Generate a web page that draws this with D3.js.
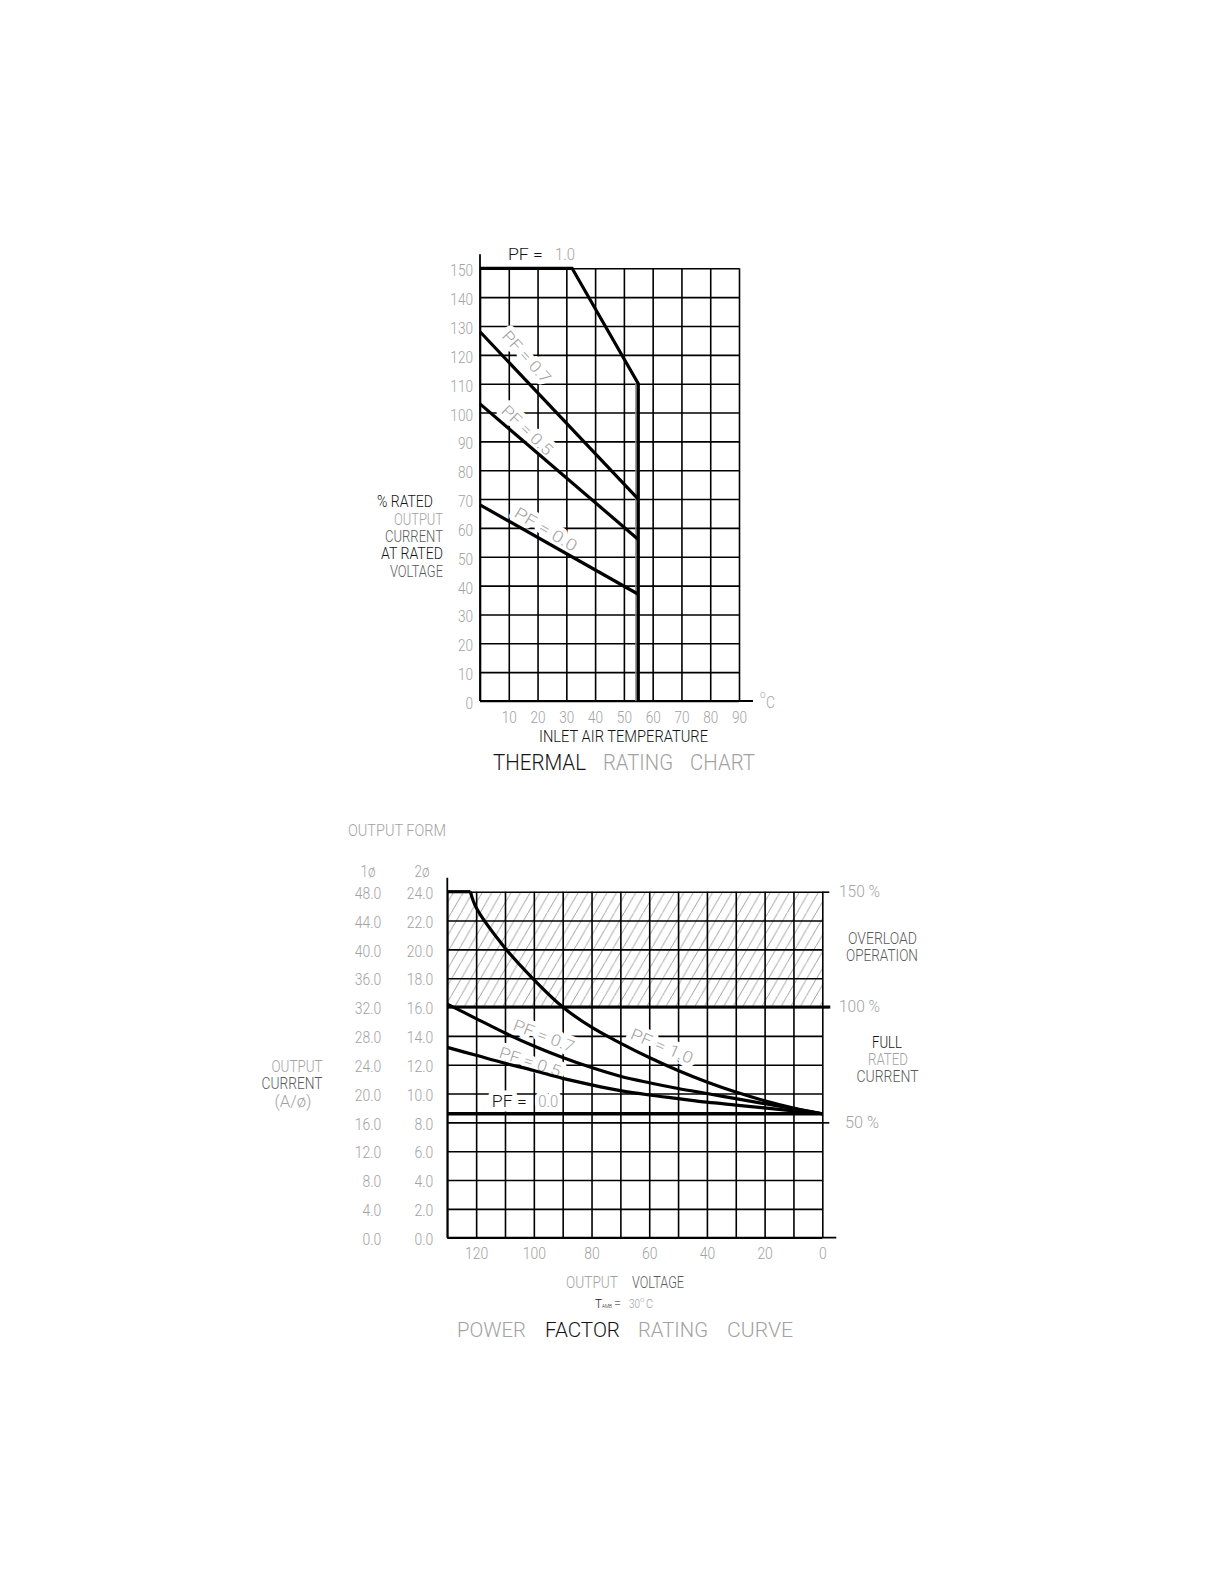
<!DOCTYPE html>
<html>
<head>
<meta charset="utf-8">
<script src="https://cdn.jsdelivr.net/npm/d3@7"></script>
<style>
body { margin: 0; background: #fff; }
svg { display: block; }
text { font-family: Roboto, "DejaVu Sans Condensed", sans-serif; font-weight: 300; }
</style>
</head>
<body>
<svg id="svg1" width="1224" height="1584"></svg>
<script>
// ---- thermal rating chart ----
var tempGrid = [0, 10, 20, 30, 40, 50, 60, 70, 80, 90];
var tempTicks = [10, 20, 30, 40, 50, 60, 70, 80, 90];
var pctTicks = [0, 10, 20, 30, 40, 50, 60, 70, 80, 90, 100, 110, 120, 130, 140, 150];

// [temp degC, % rated current]
var thermalPf10 = [[0, 150], [32, 150], [55, 110], [55, 0]];
var thermalPf07 = [[0, 128], [55, 70]];
var thermalPf05 = [[0, 103], [55, 56]];
var thermalPf00 = [[0, 68], [55, 37]];

// ---- power factor rating curve ----
var voltGrid = [130, 120, 110, 100, 90, 80, 70, 60, 50, 40, 30, 20, 10, 0];
var voltTicks = [120, 100, 80, 60, 40, 20, 0];
var ampGrid = [0, 2, 4, 6, 8, 10, 12, 14, 16, 18, 20, 22, 24];
var amp1Labels = ["0.0", "4.0", "8.0", "12.0", "16.0", "20.0", "24.0", "28.0", "32.0", "36.0", "40.0", "44.0", "48.0"];
var amp2Labels = ["0.0", "2.0", "4.0", "6.0", "8.0", "10.0", "12.0", "14.0", "16.0", "18.0", "20.0", "22.0", "24.0"];

// output current (2ø scale) read at each voltage
var pf10Flat = [[130, 24], [122, 24]];
var pf10Volts = [122, 120, 110, 100, 90, 80, 70, 60, 50, 40, 30, 20, 10, 0];
var pf10Amps = [24, 22.9, 20.1, 17.9, 16.0, 14.6, 13.5, 12.5, 11.6, 10.8, 10.1, 9.5, 9.0, 8.6];
var curveVolts = [130, 120, 110, 100, 90, 80, 70, 60, 50, 40, 30, 20, 10, 0];
var pf07Amps = [16.2, 15.2, 14.2, 13.3, 12.5, 11.8, 11.2, 10.75, 10.35, 10.0, 9.65, 9.3, 8.95, 8.6];
var pf05Amps = [13.2, 12.65, 12.1, 11.6, 11.05, 10.6, 10.2, 9.9, 9.65, 9.4, 9.2, 9.0, 8.8, 8.6];
var pf00Volts = [130, 0];
var pf00Amps = [8.6, 8.6];

var K = '#141414', G = '#a2a2a2', M = '#5a5a5a';
var FONT = 'Roboto, "DejaVu Sans Condensed", sans-serif';

var svg = d3.select('#svg1');

var defs = svg.append('defs');
var hatch = defs.append('pattern')
    .attr('id', 'hatch')
    .attr('patternUnits', 'userSpaceOnUse')
    .attr('width', 9.6)
    .attr('height', 16.6);
hatch.append('line')
    .attr('x1', -0.5).attr('y1', 16.6 + 0.87)
    .attr('x2', 10.1).attr('y2', -0.87)
    .attr('stroke', '#8e8e8e')
    .attr('stroke-width', 0.85);

// one text, optionally stretched to a given width
function txt(g, x, y, str, color, o) {
    o = o || {};
    var t = g.append('text')
        .attr('x', x).attr('y', y)
        .attr('fill', color)
        .attr('font-size', o.size || 17)
        .attr('text-anchor', o.anchor || 'start')
        .text(str);
    if (o.dy) t.attr('dy', o.dy);
    if (o.width) t.attr('textLength', o.width).attr('lengthAdjust', 'spacingAndGlyphs');
    if (o.rotate != null) t.attr('transform', 'rotate(' + o.rotate + ',' + x + ',' + y + ')');
    if (o.halo) {
        t.attr('stroke', '#fff').attr('stroke-width', 9)
         .attr('paint-order', 'stroke').attr('stroke-linejoin', 'round');
    }
    return t;
}

// narrow the tick labels like the plotter font
function squeeze(sel, k) {
    sel.each(function() {
        var w = this.getComputedTextLength();
        d3.select(this).attr('textLength', w * k).attr('lengthAdjust', 'spacingAndGlyphs');
    });
}

function styleAxis(g) {
    g.attr('font-family', FONT).attr('font-size', 17);
    g.select('.domain').remove();
    g.selectAll('line').attr('stroke', '#000').attr('stroke-width', 1.6);
    g.selectAll('text').attr('fill', G);
}

// ================= THERMAL RATING CHART =================
var tx = d3.scaleLinear().domain([0, 90]).range([480, 739]);
var ty = d3.scaleLinear().domain([0, 150]).range([701, 268.3]);
var topG = svg.append('g');

// grid
topG.append('g')
    .attr('transform', 'translate(0,' + ty(0) + ')')
    .call(d3.axisBottom(tx).tickValues(tempGrid).tickSize(-(ty(0) - ty(150))).tickFormat(''))
    .call(styleAxis);
topG.append('g')
    .attr('transform', 'translate(' + tx(0) + ',0)')
    .call(d3.axisLeft(ty).tickValues(pctTicks).tickSize(-(tx(90) - tx(0))).tickFormat(''))
    .call(styleAxis);

// axis lines
topG.append('line').attr('x1', tx(0)).attr('x2', tx(0)).attr('y1', ty(150) - 14).attr('y2', ty(0))
    .attr('stroke', '#000').attr('stroke-width', 1.8);
topG.append('line').attr('x1', tx(0)).attr('x2', tx(90) + 14).attr('y1', ty(0)).attr('y2', ty(0))
    .attr('stroke', '#000').attr('stroke-width', 1.8);

// tick labels
topG.append('g')
    .attr('transform', 'translate(' + tx(0) + ',0)')
    .call(d3.axisLeft(ty).tickValues(pctTicks).tickSize(0).tickPadding(7))
    .call(styleAxis)
    .selectAll('text').attr('dy', '0.44em').call(squeeze, 0.8);
topG.append('g')
    .attr('transform', 'translate(0,' + ty(0) + ')')
    .call(d3.axisBottom(tx).tickValues(tempTicks).tickSize(0).tickPadding(10))
    .call(styleAxis)
    .selectAll('text').call(squeeze, 0.8);

txt(topG, 760, 698, 'o', G, { size: 10 });
txt(topG, 766, 708, 'C', G, { size: 16, width: 9 });

// rotated PF labels (haloed so the grid breaks round them)
txt(topG, tx(16.2), ty(119.3), 'PF = 0.7', G, { anchor: 'middle', dy: '0.35em', rotate: 48, halo: true, width: 64, size: 16 });
txt(topG, tx(16.4), ty(93.9), 'PF = 0.5', G, { anchor: 'middle', dy: '0.35em', rotate: 44, halo: true, width: 64, size: 16 });
txt(topG, tx(22.9), ty(59.5), 'PF = 0.0', G, { anchor: 'middle', dy: '0.35em', rotate: 31, halo: true, width: 70, size: 16 });

// rating lines
var tline = d3.line().x(function(d) { return tx(d[0]); }).y(function(d) { return ty(d[1]); });
topG.append('line')
    .attr('x1', tx(54.2)).attr('x2', tx(54.2)).attr('y1', ty(110)).attr('y2', ty(0))
    .attr('stroke', '#8c8c8c').attr('stroke-width', 1.6);
[thermalPf10, thermalPf07, thermalPf05, thermalPf00].forEach(function(s) {
    topG.append('path')
        .attr('d', tline(s))
        .attr('fill', 'none')
        .attr('stroke', '#000')
        .attr('stroke-width', 3.2)
        .attr('stroke-linejoin', 'miter');
});

txt(topG, tx(9.7), 260, 'PF  =', K, { width: 35, size: 16 });
txt(topG, tx(9.7) + 47, 260, '1.0', G, { width: 20, size: 16 });

// y title
txt(topG, 433, 507, '% RATED', K, { anchor: 'end', width: 56, size: 16 });
txt(topG, 443, 525, 'OUTPUT', G, { anchor: 'end', width: 49, size: 16 });
txt(topG, 443, 542, 'CURRENT', M, { anchor: 'end', width: 58, size: 16 });
txt(topG, 443, 559, 'AT RATED', K, { anchor: 'end', width: 62, size: 16 });
txt(topG, 443, 577, 'VOLTAGE', M, { anchor: 'end', width: 53, size: 16 });

txt(topG, 623.5, 742, 'INLET  AIR  TEMPERATURE', K, { anchor: 'middle', width: 169 });
txt(topG, 493, 770, 'THERMAL', K, { width: 93, size: 22 });
txt(topG, 603, 770, 'RATING', G, { width: 70, size: 22 });
txt(topG, 690, 770, 'CHART', G, { width: 65, size: 22 });

// ================= POWER FACTOR RATING CURVE =================
var bx = d3.scaleLinear().domain([130, 0]).range([447.3, 822.3]);
var by = d3.scaleLinear().domain([0, 24]).range([1237.7, 891.7]);
var bot = svg.append('g');

// overload hatch
bot.append('rect')
    .attr('x', bx(130)).attr('y', by(24))
    .attr('width', bx(0) - bx(130)).attr('height', by(16) - by(24))
    .attr('fill', 'url(#hatch)');

// grid
bot.append('g')
    .attr('transform', 'translate(0,' + by(0) + ')')
    .call(d3.axisBottom(bx).tickValues(voltGrid).tickSize(-(by(0) - by(24))).tickFormat(''))
    .call(styleAxis);
bot.append('g')
    .attr('transform', 'translate(' + bx(130) + ',0)')
    .call(d3.axisLeft(by).tickValues(ampGrid).tickSize(-(bx(0) - bx(130))).tickFormat(''))
    .call(styleAxis);

// right-hand tick marks at 150 / 100 / 50 %
bot.append('g')
    .attr('transform', 'translate(' + bx(0) + ',0)')
    .call(d3.axisRight(by).tickValues([8, 16, 24]).tickSize(7).tickFormat(''))
    .call(styleAxis);

// axis lines
bot.append('line').attr('x1', bx(130)).attr('x2', bx(130)).attr('y1', by(24) - 14).attr('y2', by(0))
    .attr('stroke', '#000').attr('stroke-width', 1.8);
bot.append('line').attr('x1', bx(130)).attr('x2', bx(0) + 14).attr('y1', by(0)).attr('y2', by(0))
    .attr('stroke', '#000').attr('stroke-width', 1.8);
bot.append('line').attr('x1', bx(130)).attr('x2', bx(0) + 8).attr('y1', by(16)).attr('y2', by(16))
    .attr('stroke', '#000').attr('stroke-width', 3);

// tick labels: 2ø and 1ø columns
bot.append('g')
    .attr('transform', 'translate(' + bx(130) + ',0)')
    .call(d3.axisLeft(by).tickValues(ampGrid).tickSize(0).tickPadding(14)
        .tickFormat(function(d, i) { return amp2Labels[i]; }))
    .call(styleAxis)
    .selectAll('text').attr('dy', '0.39em').call(squeeze, 0.82);
bot.append('g')
    .attr('transform', 'translate(' + bx(130) + ',0)')
    .call(d3.axisLeft(by).tickValues(ampGrid).tickSize(0).tickPadding(66)
        .tickFormat(function(d, i) { return amp1Labels[i]; }))
    .call(styleAxis)
    .selectAll('text').attr('dy', '0.39em').call(squeeze, 0.82);
bot.append('g')
    .attr('transform', 'translate(0,' + by(0) + ')')
    .call(d3.axisBottom(bx).tickValues(voltTicks).tickSize(0).tickPadding(9.5))
    .call(styleAxis)
    .selectAll('text').call(squeeze, 0.82);

// curve labels
txt(bot, bx(96.5), by(14.0), 'PF = 0.7', G, { anchor: 'middle', dy: '0.35em', rotate: 21, halo: true, width: 64, size: 16 });
txt(bot, bx(101.3), by(12.2), 'PF = 0.5', G, { anchor: 'middle', dy: '0.35em', rotate: 18, halo: true, width: 64, size: 16 });
txt(bot, bx(55.6), by(13.3), 'PF = 1.0', G, { anchor: 'middle', dy: '0.35em', rotate: 23, halo: true, width: 66, size: 16 });
txt(bot, bx(114.6), by(9.07), 'PF  =', K, { halo: true, width: 35 });
txt(bot, bx(114.6) + 46.6, by(9.07), '0.0', G, { halo: true, width: 20 });

// curves
var bline = d3.line().x(function(d) { return bx(d[0]); }).y(function(d) { return by(d[1]); });
var bcurve = d3.line().curve(d3.curveCatmullRom.alpha(0.5))
    .x(function(d) { return bx(d[0]); }).y(function(d) { return by(d[1]); });
function zipped(v, a) { return v.map(function(x, i) { return [x, a[i]]; }); }

var curves = bot.append('g')
    .attr('fill', 'none')
    .attr('stroke', '#000')
    .attr('stroke-width', 3.2);
curves.append('path').attr('d', bline(pf10Flat));
curves.append('path').attr('d', bcurve(zipped(pf10Volts, pf10Amps)));
curves.append('path').attr('d', bcurve(zipped(curveVolts, pf07Amps)));
curves.append('path').attr('d', bcurve(zipped(curveVolts, pf05Amps)));
curves.append('path').attr('d', bline(zipped(pf00Volts, pf00Amps))).attr('stroke-width', 3.6);

// left titles
txt(bot, 348, 836, 'OUTPUT  FORM', G, { width: 98, size: 16 });
txt(bot, 368, 877, '1ø', G, { anchor: 'middle', size: 16, width: 15 });
txt(bot, 422, 877, '2ø', G, { anchor: 'middle', size: 16, width: 15 });
txt(bot, 297, 1072, 'OUTPUT', G, { anchor: 'middle', width: 51 });
txt(bot, 292, 1089, 'CURRENT', M, { anchor: 'middle', width: 61 });
txt(bot, 293, 1107, '(A/ø)', G, { anchor: 'middle', width: 37 });

// right titles
txt(bot, 839, 897, '150  %', G, { width: 41, size: 16 });
txt(bot, 839, 1012, '100  %', G, { width: 41, size: 16 });
txt(bot, 845, 1128, '50  %', G, { width: 34, size: 16 });
txt(bot, 882.5, 944, 'OVERLOAD', M, { anchor: 'middle', width: 69 });
txt(bot, 882, 961, 'OPERATION', M, { anchor: 'middle', width: 72 });
txt(bot, 887, 1048, 'FULL', K, { anchor: 'middle', width: 30 });
txt(bot, 888, 1065, 'RATED', G, { anchor: 'middle', width: 40 });
txt(bot, 887.5, 1082, 'CURRENT', M, { anchor: 'middle', width: 62 });

// bottom titles
txt(bot, 566, 1288, 'OUTPUT', G, { width: 52 });
txt(bot, 632, 1288, 'VOLTAGE', M, { width: 52 });
txt(bot, 595, 1308, 'T', K, { size: 12, width: 7 });
txt(bot, 602, 1308, 'AMB', K, { size: 6, width: 10 });
txt(bot, 614, 1308, '=', K, { size: 12, width: 7 });
txt(bot, 629, 1308, '30', G, { size: 12, width: 11 });
txt(bot, 640, 1302, 'o', G, { size: 8 });
txt(bot, 646, 1308, 'C', G, { size: 12, width: 7 });
txt(bot, 457, 1337, 'POWER', G, { width: 69, size: 21 });
txt(bot, 545, 1337, 'FACTOR', K, { width: 75, size: 21 });
txt(bot, 638, 1337, 'RATING', G, { width: 70, size: 21 });
txt(bot, 727, 1337, 'CURVE', G, { width: 66, size: 21 });
</script>
</body>
</html>
